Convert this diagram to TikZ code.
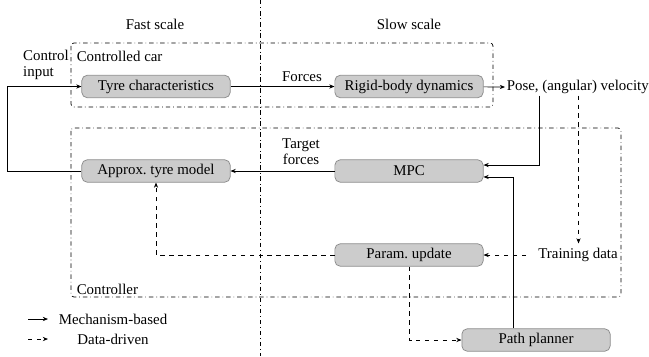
\documentclass[tikz,border=0pt]{standalone}
\usepackage{fontspec}
\setmainfont{Liberation Serif}
\usetikzlibrary{arrows.meta,calc}
\begin{document}
\begin{tikzpicture}[x=0.6711pt,y=-0.6711pt,
  blk/.style={draw=black!45,fill=black!20,rounded corners=3.5pt,minimum width=99.5pt,minimum height=15pt,inner sep=1pt,line width=0.5pt},
  arr/.style={-{Stealth[length=3.5pt,width=2.8pt]},line width=0.45pt},
  darr/.style={arr,dashed},
  frame/.style={dash dot,rounded corners=2pt,line width=0.45pt},
  lbl/.style={inner sep=1pt,font=\fontsize{10}{11}\selectfont}
  ]
\useasboundingbox (0,0) rectangle (649,356);
\tikzset{every node/.style={font=\fontsize{10}{11}\selectfont}}
% scale separator
\coordinate (vt) at (260,0);
\coordinate (vb) at (260,356);
\draw[dash dot,line width=0.45pt] (vt) -- (vb);
\node (fast) at (155,24) {Fast scale};
\node (slow) at (409,24) {Slow scale};
% frames
\draw[frame] (71,43) rectangle (493,107);
\node[lbl,anchor=west] (carlbl) at (75,56) {Controlled car};
\draw[frame] (71,128) rectangle (621,297);
\node[lbl,anchor=west] (ctrllbl) at (75,289) {Controller};
% blocks
\node[blk] (tyre) at (156,86.5) {Tyre characteristics};
\node[blk] (rigid) at (409,86.5) {Rigid-body dynamics};
\node[blk] (approx) at (156,171) {Approx.\ tyre model};
\node[blk] (mpc) at (409,171) {MPC};
\node[blk] (param) at (409,255) {Param.\ update};
\node[blk] (planner) at (536,340) {Path planner};
% text nodes
\node[lbl,anchor=west] (pose) at (505,87) {Pose, (angular) velocity};
\node[lbl,inner xsep=8pt,inner ysep=3pt] (train) at (578,255) {Training data};
\node[lbl,align=left] (ctrlin) at (46,65) {Control\\input};
\node[lbl] (forces) at (302,77) {Forces};
\node[lbl,align=center] (tforces) at (301,151.5) {Target\\forces};
% helper coordinates
\coordinate (loop) at (7,171);
\coordinate (c1) at (539.5,130);
\coordinate (c2) at (513,250);
\coordinate (c3) at (578.5,130);
% solid connectors
\draw[arr] (tyre) -- (rigid);
\draw[arr] (rigid) -- (pose.west);
\draw[arr] (pose.south -| c1) |- ([yshift=4pt]mpc.east);
\draw[arr] (planner.north -| c2) |- ([yshift=-4pt]mpc.east);
\draw[arr] (mpc) -- (approx);
\draw[arr] (approx.west) -- (loop) |- (tyre.west);
% dashed connectors
\draw[darr] (pose.south -| c3) -- (train.north -| c3);
\draw[darr] (train.west) -- (param.east);
\draw[darr] (param.west) -| (approx.south);
\draw[darr] (param.south) |- (planner.west);
% legend
\coordinate (la) at (28,319);
\coordinate (lb) at (48,319);
\coordinate (lc) at (28,339);
\coordinate (ld) at (48,339);
\draw[arr] (la) -- (lb);
\draw[darr] (lc) -- (ld);
\node (mech) at (113,319) {Mechanism-based};
\node (data) at (113,339) {Data-driven};
\end{tikzpicture}
\end{document}
